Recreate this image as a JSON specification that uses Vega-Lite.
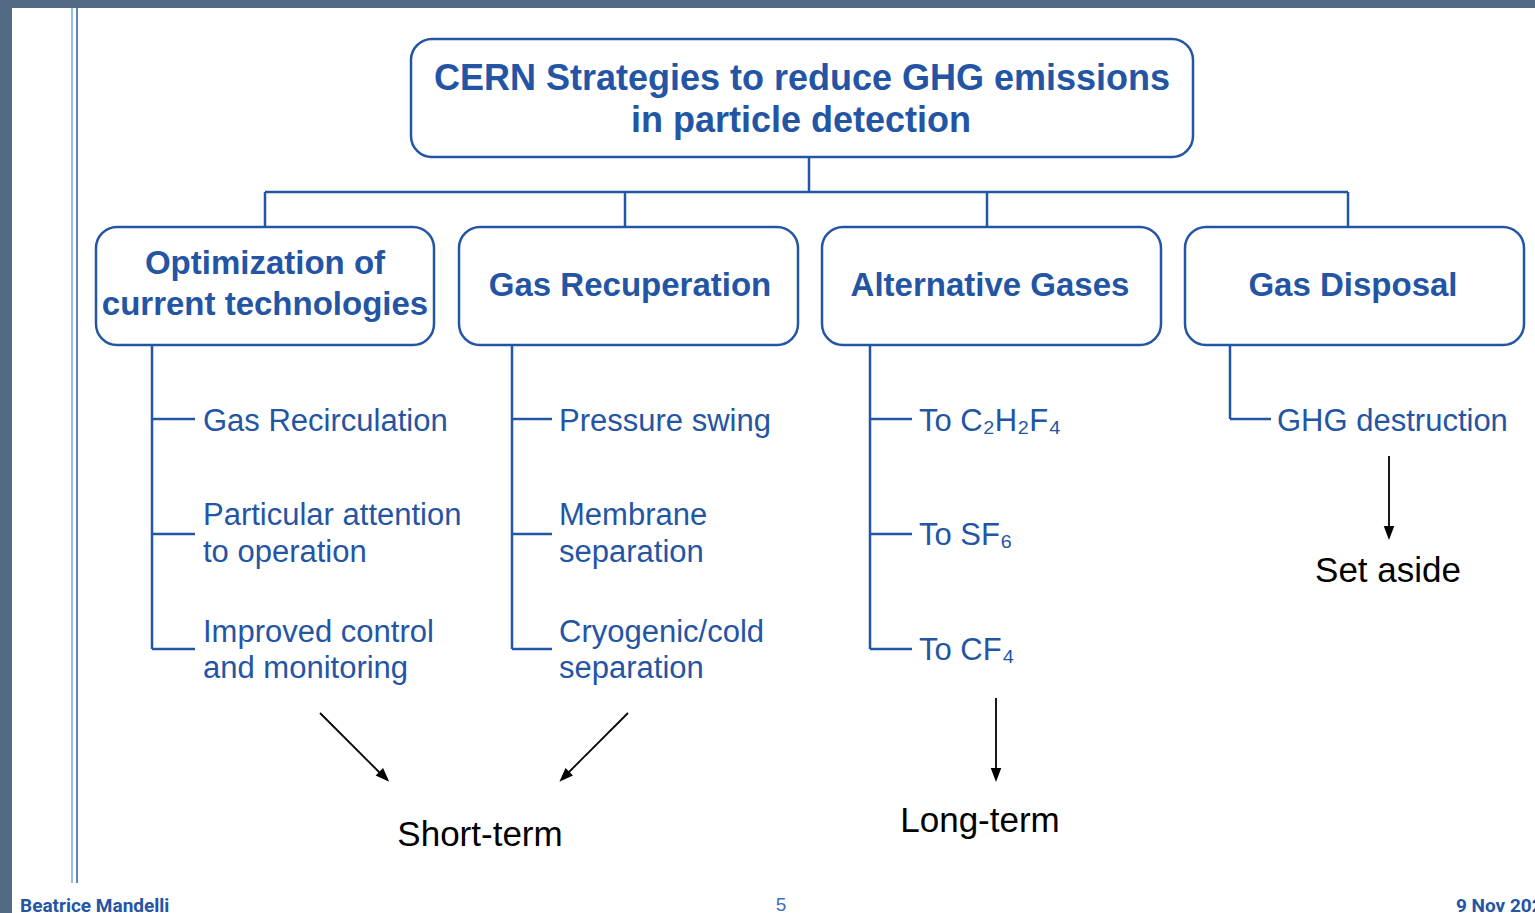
{
  "$schema": "https://vega.github.io/schema/vega-lite/v6.json",
  "width": 1535,
  "height": 913,
  "autosize": {"type": "none"},
  "padding": 0,
  "background": "white",
  "config": {"view": {"stroke": null}},
  "encoding": {
    "x": {"field": "x", "type": "quantitative", "scale": {"domain": [0, 1535], "nice": false, "zero": false}, "axis": null},
    "y": {"field": "y", "type": "quantitative", "scale": {"domain": [0, 913], "nice": false, "zero": false, "reverse": true}, "axis": null}
  },
  "layer": [
    {
      "data": {"values": [
        {"part": "left strip", "x": 0, "x2": 12, "y": 0, "y2": 913},
        {"part": "top strip", "x": 0, "x2": 1535, "y": 0, "y2": 8}
      ]},
      "mark": {"type": "rect", "color": "#536a83"},
      "encoding": {"x2": {"field": "x2"}, "y2": {"field": "y2"}}
    },
    {
      "data": {"values": [
        {"line": "outer", "x": 72, "y": 8, "y2": 883},
        {"line": "inner", "x": 77, "y": 8, "y2": 883}
      ]},
      "mark": {"type": "rule", "strokeWidth": 2},
      "encoding": {
        "y2": {"field": "y2"},
        "color": {"field": "line", "type": "nominal", "scale": {"domain": ["outer", "inner"], "range": ["#9dbbe4", "#5b87c6"]}, "legend": null}
      }
    },
    {
      "data": {"values": [
        {"seg": "title stem", "x": 809, "y": 157, "x2": 809, "y2": 192},
        {"seg": "bar", "x": 265, "y": 192, "x2": 1348, "y2": 192},
        {"seg": "drop 1", "x": 265, "y": 192, "x2": 265, "y2": 227},
        {"seg": "drop 2", "x": 625, "y": 192, "x2": 625, "y2": 227},
        {"seg": "drop 3", "x": 987, "y": 192, "x2": 987, "y2": 227},
        {"seg": "drop 4", "x": 1348, "y": 192, "x2": 1348, "y2": 227},
        {"seg": "tree 1", "x": 152, "y": 345, "x2": 152, "y2": 649},
        {"seg": "tree 1 a", "x": 152, "y": 419, "x2": 195, "y2": 419},
        {"seg": "tree 1 b", "x": 152, "y": 534, "x2": 195, "y2": 534},
        {"seg": "tree 1 c", "x": 152, "y": 649, "x2": 195, "y2": 649},
        {"seg": "tree 2", "x": 512, "y": 345, "x2": 512, "y2": 649},
        {"seg": "tree 2 a", "x": 512, "y": 419, "x2": 552, "y2": 419},
        {"seg": "tree 2 b", "x": 512, "y": 534, "x2": 552, "y2": 534},
        {"seg": "tree 2 c", "x": 512, "y": 649, "x2": 552, "y2": 649},
        {"seg": "tree 3", "x": 870, "y": 345, "x2": 870, "y2": 649},
        {"seg": "tree 3 a", "x": 870, "y": 419, "x2": 912, "y2": 419},
        {"seg": "tree 3 b", "x": 870, "y": 534, "x2": 912, "y2": 534},
        {"seg": "tree 3 c", "x": 870, "y": 649, "x2": 912, "y2": 649},
        {"seg": "tree 4", "x": 1230, "y": 345, "x2": 1230, "y2": 419},
        {"seg": "tree 4 a", "x": 1230, "y": 419, "x2": 1271, "y2": 419}
      ]},
      "mark": {"type": "rule", "color": "#2455a4", "strokeWidth": 2.5},
      "encoding": {"x2": {"field": "x2"}, "y2": {"field": "y2"}}
    },
    {
      "data": {"values": [
        {"box": "title", "x": 411, "x2": 1193, "y": 39, "y2": 157},
        {"box": "Optimization", "x": 96, "x2": 434, "y": 227, "y2": 345},
        {"box": "Recuperation", "x": 459, "x2": 798, "y": 227, "y2": 345},
        {"box": "Alternative", "x": 822, "x2": 1161, "y": 227, "y2": 345},
        {"box": "Disposal", "x": 1185, "x2": 1524, "y": 227, "y2": 345}
      ]},
      "mark": {"type": "rect", "fill": "white", "stroke": "#2455a4", "strokeWidth": 2.5, "cornerRadius": 21},
      "encoding": {"x2": {"field": "x2"}, "y2": {"field": "y2"}}
    },
    {
      "data": {"values": [
        {"label": "CERN Strategies to reduce GHG emissions", "x": 802, "y": 90},
        {"label": "in particle detection", "x": 801, "y": 132}
      ]},
      "mark": {"type": "text", "font": "Liberation Sans", "fontWeight": "bold", "fontSize": 36, "color": "#2455a4", "align": "center", "baseline": "alphabetic"},
      "encoding": {"text": {"field": "label"}}
    },
    {
      "data": {"values": [
        {"label": "Optimization of", "x": 265, "y": 274},
        {"label": "current technologies", "x": 265, "y": 315},
        {"label": "Gas Recuperation", "x": 630, "y": 296},
        {"label": "Alternative Gases", "x": 990, "y": 296},
        {"label": "Gas Disposal", "x": 1353, "y": 296}
      ]},
      "mark": {"type": "text", "font": "Liberation Sans", "fontWeight": "bold", "fontSize": 33, "color": "#2455a4", "align": "center", "baseline": "alphabetic"},
      "encoding": {"text": {"field": "label"}}
    },
    {
      "data": {"values": [
        {"label": "Gas Recirculation", "x": 203, "y": 431},
        {"label": "Particular attention", "x": 203, "y": 525},
        {"label": "to operation", "x": 203, "y": 562},
        {"label": "Improved control", "x": 203, "y": 642},
        {"label": "and monitoring", "x": 203, "y": 678},
        {"label": "Pressure swing", "x": 559, "y": 431},
        {"label": "Membrane", "x": 559, "y": 525},
        {"label": "separation", "x": 559, "y": 562},
        {"label": "Cryogenic/cold", "x": 559, "y": 642},
        {"label": "separation", "x": 559, "y": 678},
        {"label": "To C₂H₂F₄", "x": 919, "y": 431},
        {"label": "To SF₆", "x": 919, "y": 545},
        {"label": "To CF₄", "x": 919, "y": 660},
        {"label": "GHG destruction", "x": 1277, "y": 431}
      ]},
      "mark": {"type": "text", "font": "Liberation Sans", "fontSize": 31, "color": "#2455a4", "align": "left", "baseline": "alphabetic"},
      "encoding": {"text": {"field": "label"}}
    },
    {
      "data": {"values": [
        {"arrow": "opt", "x": 320, "y": 713, "x2": 384, "y2": 777},
        {"arrow": "rec", "x": 628, "y": 713, "x2": 564, "y2": 777},
        {"arrow": "alt", "x": 996, "y": 698, "x2": 996, "y2": 775},
        {"arrow": "dis", "x": 1389, "y": 456, "x2": 1389, "y2": 533}
      ]},
      "mark": {"type": "rule", "color": "black", "strokeWidth": 1.8},
      "encoding": {"x2": {"field": "x2"}, "y2": {"field": "y2"}}
    },
    {
      "data": {"values": [
        {"arrow": "opt", "x": 384.3, "y": 776.7, "angle": 315},
        {"arrow": "rec", "x": 564.3, "y": 776.7, "angle": 45},
        {"arrow": "alt", "x": 996, "y": 775, "angle": 0},
        {"arrow": "dis", "x": 1389, "y": 533, "angle": 0}
      ]},
      "mark": {"type": "point", "shape": "M0,1L-0.75,-1L0.75,-1Z", "size": 196, "filled": true, "color": "black", "opacity": 1, "strokeWidth": 0},
      "encoding": {"angle": {"field": "angle", "type": "quantitative", "scale": null}}
    },
    {
      "data": {"values": [
        {"label": "Short-term", "x": 480, "y": 846},
        {"label": "Long-term", "x": 980, "y": 832},
        {"label": "Set aside", "x": 1388, "y": 582}
      ]},
      "mark": {"type": "text", "font": "Liberation Sans", "fontSize": 35, "color": "black", "align": "center", "baseline": "alphabetic"},
      "encoding": {"text": {"field": "label"}}
    },
    {
      "data": {"values": [
        {"label": "Beatrice Mandelli", "x": 20, "y": 912},
        {"label": "9 Nov 202", "x": 1456, "y": 912}
      ]},
      "mark": {"type": "text", "font": "Roboto", "fontWeight": "bold", "fontSize": 19, "color": "#2455a4", "align": "left", "baseline": "alphabetic"},
      "encoding": {"text": {"field": "label"}}
    },
    {
      "data": {"values": [
        {"label": "5", "x": 781, "y": 911}
      ]},
      "mark": {"type": "text", "font": "Liberation Sans", "fontSize": 19, "color": "#3d6fb8", "align": "center", "baseline": "alphabetic"},
      "encoding": {"text": {"field": "label"}}
    }
  ]
}
